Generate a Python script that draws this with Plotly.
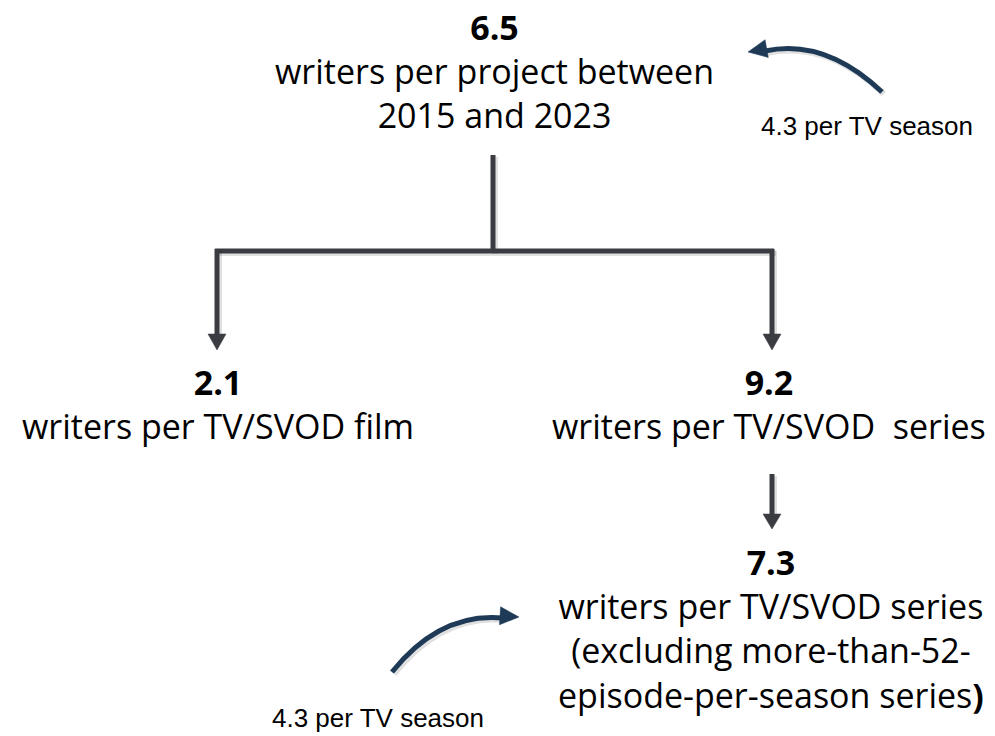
import plotly.graph_objects as go
import math

# ---------------- data ----------------
node_values = ["6.5", "2.1", "9.2", "7.3"]
node_labels = [
    ["writers per project between", "2015 and 2023"],
    ["writers per TV/SVOD film"],
    ["writers per TV/SVOD\u00a0\u00a0series"],
    ["writers per TV/SVOD series", "(excluding more-than-52-", "episode-per-season series<b>)</b>"],
]
side_notes = ["4.3 per TV season", "4.3 per TV season"]

# ---------------- layout geometry (pixel space) ----------------
W, H = 995, 736
FONT = "Open Sans"
TXT_SIZE = 34
LINE_H = 1.3 * TXT_SIZE
node_pos = [(494, 27), (218, 382), (769, 382), (771, 562)]   # centre of the bold number line
note_pos = [(867, 126), (378, 718)]

CONN = "#3b3c41"
NAVY = "#1e3a56"
LW = 5

fig = go.Figure()
shapes = []
annotations = []

def add_line(x0, y0, x1, y1, color=CONN, width=LW, shadow=True):
    if shadow:
        shapes.append(dict(type="line", x0=x0 + 2, y0=y0 + 2, x1=x1 + 2, y1=y1 + 2,
                           xref="x", yref="y", line=dict(color="rgba(0,0,0,0.12)", width=width + 1)))
    shapes.append(dict(type="line", x0=x0, y0=y0, x1=x1, y1=y1, xref="x", yref="y",
                       line=dict(color=color, width=width)))

def add_head(tipx, tipy, dx, dy, length, half, color=CONN):
    n = math.hypot(dx, dy)
    ux, uy = dx / n, dy / n
    bx, by = tipx - ux * length, tipy - uy * length
    px, py = -uy, ux
    path = (f"M {tipx} {tipy} L {bx + px * half} {by + py * half} "
            f"L {bx - px * half} {by - py * half} Z")
    shapes.append(dict(type="path", path=path, xref="x", yref="y",
                       fillcolor=color, line=dict(color=color, width=0.5)))

def add_curve(p0, c, p1, tip, color=NAVY):
    path = f"M {p0[0]} {p0[1]} Q {c[0]} {c[1]} {p1[0]} {p1[1]}"
    spath = f"M {p0[0]+2} {p0[1]+2} Q {c[0]+2} {c[1]+2} {p1[0]+2} {p1[1]+2}"
    shapes.append(dict(type="path", path=spath, xref="x", yref="y",
                       line=dict(color="rgba(0,0,0,0.12)", width=LW + 1)))
    shapes.append(dict(type="path", path=path, xref="x", yref="y",
                       line=dict(color=color, width=LW)))
    add_head(tip[0], tip[1], tip[0] - c[0], tip[1] - c[1], 19, 9, color)

# tree connectors
add_line(493, 155, 493, 252)
add_line(215, 251, 774, 251)
add_line(217, 249, 217, 336)
add_line(772, 249, 772, 336)
add_head(217, 350, 0, 1, 16, 9)
add_head(772, 350, 0, 1, 16, 9)
add_line(772, 474, 772, 516)
add_head(772, 529, 0, 1, 15, 9)

# curved navy arrows
add_curve((882, 92), (825, 38), (765, 51), (748, 52))
add_curve((392, 672), (440, 612), (503, 618), (519, 617))

# text blocks: bold value on the first line, description below
for (x, y), v, lines in zip(node_pos, node_values, node_labels):
    text = "<br>".join([f"<b>{v}</b>"] + lines)
    yc = y + (len(lines)) * LINE_H / 2
    annotations.append(dict(x=x, y=yc, xref="x", yref="y", text=text, showarrow=False,
                            font=dict(family=FONT, size=TXT_SIZE, color="#000"),
                            xanchor="center", yanchor="middle", align="center"))

for (x, y), t in zip(note_pos, side_notes):
    annotations.append(dict(x=x, y=y, xref="x", yref="y", text=t, showarrow=False,
                            font=dict(family="Liberation Sans, Arial", size=26, color="#000"),
                            xanchor="center", yanchor="middle"))

fig.update_layout(
    width=W, height=H, margin=dict(l=0, r=0, t=0, b=0),
    paper_bgcolor="white", plot_bgcolor="white",
    xaxis=dict(range=[0, W], visible=False, fixedrange=True),
    yaxis=dict(range=[H, 0], visible=False, fixedrange=True),
    shapes=shapes, annotations=annotations, showlegend=False,
)
fig.write_html("out.html", config={"displayModeBar": False},
               post_script="document.body.style.margin='0';document.body.style.overflow='hidden';")
